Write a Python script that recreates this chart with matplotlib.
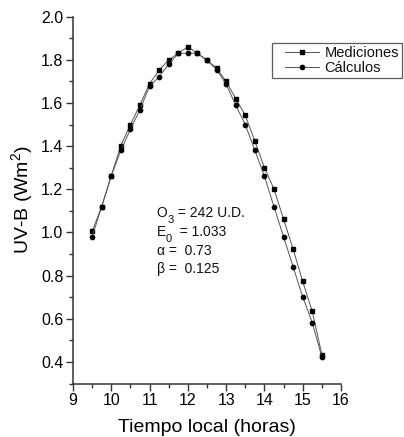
import matplotlib
matplotlib.use("Agg")
import matplotlib.pyplot as plt
from matplotlib.ticker import MultipleLocator
from matplotlib.lines import Line2D
from matplotlib.legend_handler import HandlerLine2D

plt.rcParams.update({
    "font.family": ["Liberation Sans", "DejaVu Sans"],
    "mathtext.fontset": "custom",
    "mathtext.rm": "Liberation Sans",
    "mathtext.it": "Liberation Sans:italic",
    "mathtext.bf": "Liberation Sans:bold",
    "text.color": "#111111",
    "axes.edgecolor": "#333333",
})

# Datos
horas = [9.5, 9.75, 10.0, 10.25, 10.5, 10.75, 11.0, 11.25, 11.5, 11.75, 12.0,
         12.25, 12.5, 12.75, 13.0, 13.25, 13.5, 13.75, 14.0, 14.25, 14.5,
         14.75, 15.0, 15.25, 15.5]
mediciones = [1.005, 1.12, 1.263, 1.403, 1.50, 1.591, 1.69, 1.752, 1.80, 1.83,
              1.861, 1.83, 1.798, 1.761, 1.70, 1.62, 1.543, 1.423, 1.301,
              1.201, 1.062, 0.923, 0.773, 0.634, 0.434]
calculos = [0.98, 1.12, 1.263, 1.38, 1.479, 1.569, 1.679, 1.721, 1.78, 1.83,
            1.831, 1.83, 1.798, 1.755, 1.688, 1.59, 1.50, 1.381, 1.261, 1.12,
            0.98, 0.841, 0.702, 0.582, 0.423]
# (simbolo, subindice, resto)
parametros = [("O", "3", " = 242 U.D."), ("E", "0", "  = 1.033"),
              ("α", "", " =  0.73"), ("β", "", " =  0.125")]

fig = plt.figure(figsize=(4.04, 4.37), dpi=100)
ax = fig.add_axes([0.1807, 0.1224, 0.8440 - 0.1807, 0.9618 - 0.1224])

ax.plot(horas, mediciones, color="#555555", lw=0.7, marker="s", ms=2.9,
        mfc="black", mec="black", label="Mediciones")
ax.plot(horas, calculos, color="#555555", lw=0.7, marker="o", ms=3.1,
        mfc="black", mec="black", label="Cálculos")

ax.set_xlim(9, 16)
ax.set_ylim(0.3, 2.0)
ax.xaxis.set_major_locator(MultipleLocator(1))
ax.xaxis.set_minor_locator(MultipleLocator(0.5))
ax.yaxis.set_minor_locator(MultipleLocator(0.1))
ax.set_yticks([0.4, 0.6, 0.8, 1.0, 1.2, 1.4, 1.6, 1.8, 2.0])
ax.tick_params(which="major", direction="out", length=5, width=1,
               labelsize=11.5, color="#333333", pad=2)
ax.tick_params(which="minor", direction="out", length=3, width=1,
               color="#333333")

for s in ["top", "right"]:
    ax.spines[s].set_visible(False)
for s in ["left", "bottom"]:
    ax.spines[s].set_linewidth(1.1)

ax.set_xlabel("Tiempo local (horas)", fontsize=14, labelpad=8)
ax.set_ylabel("UV-B (Wm$^2$)", fontsize=14, labelpad=4)

# Parametros del modelo
for i, (sym, sub, rest) in enumerate(parametros):
    y = 1.09 - i * 0.087
    t0 = ax.text(11.19, y, sym, fontsize=10, va="center", ha="left")
    last = t0
    if sub:
        last = ax.annotate(sub, xy=(1, 0), xycoords=t0, xytext=(0, -3.5),
                           textcoords="offset points", fontsize=8,
                           va="bottom", ha="left")
    ax.annotate(rest, xy=(1, 0), xycoords=(last, t0), fontsize=10,
                va="bottom", ha="left")

leg = ax.legend(loc="upper left", bbox_to_anchor=(272 / 404, 1 - 43 / 437),
                bbox_transform=fig.transFigure, frameon=True, fancybox=False,
                numpoints=1, fontsize=10.5, handlelength=3.0, borderpad=0.2,
                labelspacing=0.05, handletextpad=0.4, borderaxespad=0,
                handler_map={Line2D: HandlerLine2D(xpad=0.7)})
leg.get_frame().set_edgecolor("#333333")
leg.get_frame().set_linewidth(0.9)

fig.savefig("out.png", dpi=100)
